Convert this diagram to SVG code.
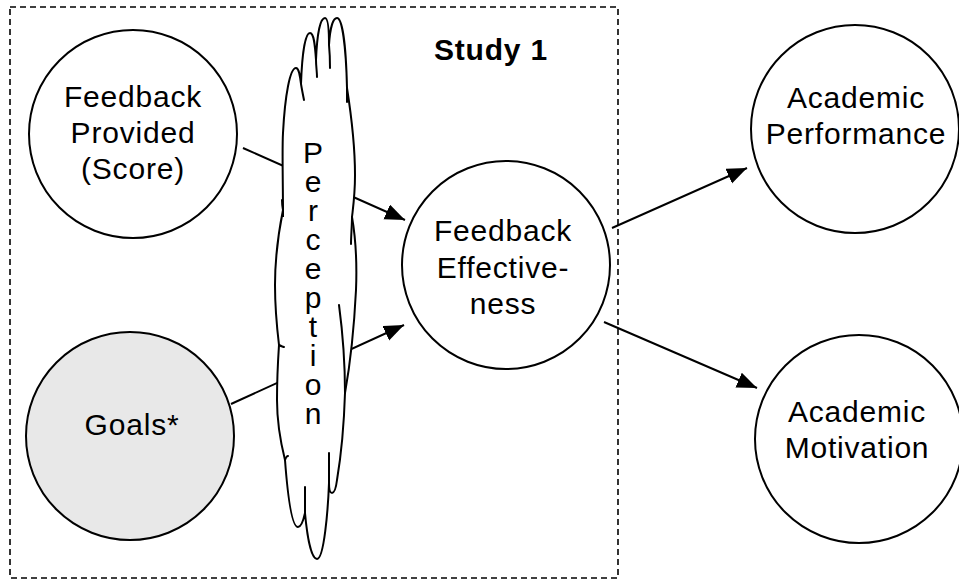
<svg xmlns="http://www.w3.org/2000/svg" width="959" height="581" viewBox="0 0 959 581">
<defs>
<style>
.node{fill:#fff;stroke:#000;stroke-width:2}
.t{font-family:"Liberation Sans",Arial,sans-serif;font-size:30px;letter-spacing:0.8px;fill:#000;text-anchor:middle}
.b{font-weight:bold}
.v{font-family:"Liberation Sans",Arial,sans-serif;font-size:30px;fill:#000;writing-mode:vertical-rl;text-orientation:upright;letter-spacing:-4px}
.edge{stroke:#000;stroke-width:2;fill:none}
.cl{fill:none;stroke:#000;stroke-width:2;stroke-linecap:round}
</style>
<marker id="arr" markerUnits="userSpaceOnUse" markerWidth="22" markerHeight="18" refX="20" refY="8" orient="auto">
<path d="M0,0 L20,8 L0,16 z" fill="#000"/>
</marker>
</defs>
<rect x="0" y="0" width="959" height="581" fill="#fff"/>
<g id="study1">
<rect x="10" y="7" width="608" height="571" fill="none" stroke="#000" stroke-width="1.6" stroke-dasharray="6 4"/>
<text class="t b" x="491" y="60">Study 1</text>
</g>
<g id="connectors">
<line class="edge" x1="243" y1="148" x2="405" y2="220" marker-end="url(#arr)"/>
<line class="edge" x1="231" y1="404" x2="404" y2="325" marker-end="url(#arr)"/>
<line class="edge" x1="612" y1="228" x2="747" y2="168" marker-end="url(#arr)"/>
<line class="edge" x1="604" y1="322" x2="757" y2="388" marker-end="url(#arr)"/>
</g>
<g id="perception">
<path fill="#fff" stroke="#000" stroke-width="2" d="M283,217 C283,180 282,150 283,133 C285,95 290,68 296,68 C299,68 300,76 301,84 C302,55 305,33 310,33 C314,33 315,45 316,60 C317,35 320,18 325,18 C328,18 329,30 329,45 C330,28 333,18 337,18 C342,18 346,45 347,88 C352,120 355,150 355,175 C355,195 353,208 352,217 C356,240 357,265 356,290 C354,330 350,365 345,393 C344,425 342,450 337,480 C336,488 334,493 332,493 C330,493 329,488 329,483 C328,510 324,559 317,559 C311,559 307,535 305,513 C303,522 301,527 298,527 C292,527 288,500 285,460 C280,440 277,420 277,400 C277,380 278,360 279,345 C276,320 275,300 275,285 C275,260 277,240 283,210 Z"/>
<path class="cl" d="M301,84 C302,90 303,95 304,100"/>
<path class="cl" d="M316,60 C316,66 317,72 317,77"/>
<path class="cl" d="M329,45 C330,55 330,62 330,68"/>
<path class="cl" d="M347,88 L347,102"/>
<path class="cl" d="M352,217 C352,225 351,236 351,244"/>
<path class="cl" d="M339,305 C343,335 345,365 345,393"/>
<path class="cl" d="M329,483 C329,470 329,460 329,453"/>
<path class="cl" d="M305,513 C305,500 305,493 305,487"/>
<path class="cl" d="M285,460 C286,457 287,456 288,456"/>
<path class="cl" d="M279,345 C281,346 283,347 284,347"/>
<path class="cl" d="M283,210 C282,205 282,202 282,200"/>
<text class="v" x="313" y="136">Perception</text>
</g>
<g id="feedback-provided">
<circle class="node" cx="133" cy="134" r="104"/>
<text class="t" x="133" y="107">Feedback</text>
<text class="t" x="133" y="143">Provided</text>
<text class="t" x="133" y="179">(Score)</text>
</g>
<g id="goals">
<circle class="node" cx="130" cy="436" r="104" style="fill:#e8e8e8"/>
<text class="t" x="132" y="435">Goals*</text>
</g>
<g id="feedback-effectiveness">
<circle class="node" cx="506" cy="265" r="104"/>
<text class="t" x="503" y="241">Feedback</text>
<text class="t" x="503" y="278">Effective-</text>
<text class="t" x="503" y="314">ness</text>
</g>
<g id="academic-performance">
<circle class="node" cx="855" cy="129" r="104"/>
<text class="t" x="856" y="108">Academic</text>
<text class="t" x="856" y="144">Performance</text>
</g>
<g id="academic-motivation">
<circle class="node" cx="859" cy="439" r="104"/>
<text class="t" x="857" y="422">Academic</text>
<text class="t" x="857" y="458">Motivation</text>
</g>
</svg>
